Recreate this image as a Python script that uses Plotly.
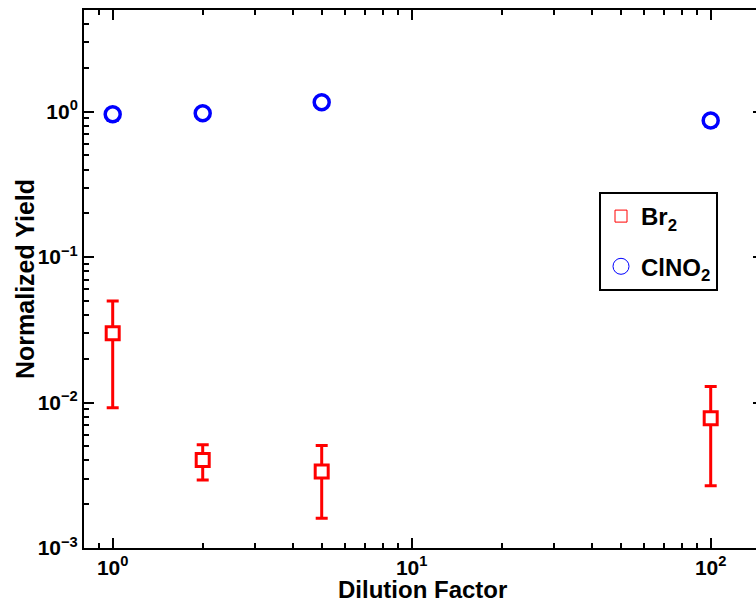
import plotly.graph_objects as go

# ---- data ----
dilution = [1, 2, 5, 100]
br2_yield = [0.030, 0.00402, 0.00336, 0.00781]
br2_err_plus = [0.020, 0.00110, 0.00170, 0.00507]
br2_err_minus = [0.0208, 0.00109, 0.00176, 0.00513]
clno2_yield = [0.96, 0.975, 1.16, 0.87]
clno2_err_plus = [0.08, 0.0, 0.0, 0.07]
clno2_err_minus = [0.09, 0.0, 0.0, 0.08]

x_tickvals = [1, 10, 100]
x_ticktext = ["10<sup>0</sup>", "10<sup>1</sup>", "10<sup>2</sup>"]
y_tickvals = [0.001, 0.01, 0.1, 1]
y_ticktext = ["10<sup>\u22123</sup>", "10<sup>\u22122</sup>", "10<sup>\u22121</sup>", "10<sup>0</sup>"]

x_range_log = [-0.096, 2.1515]
y_range_log = [-3.0, 0.699]

minor_vals = [m * 10 ** e for e in range(-4, 3) for m in range(2, 10)]

FONT = "Liberation Sans, Arial, Helvetica, sans-serif"
RED = "#ff0000"
BLUE = "#0000ff"

fig = go.Figure()

fig.add_trace(go.Scatter(
    x=dilution, y=br2_yield, mode="markers", showlegend=False,
    marker=dict(symbol="square", size=13, color="white", line=dict(width=3, color=RED)),
    error_y=dict(type="data", symmetric=False, array=br2_err_plus, arrayminus=br2_err_minus,
                 color=RED, thickness=3, width=6),
))
fig.add_trace(go.Scatter(
    x=dilution, y=clno2_yield, mode="markers", showlegend=False,
    marker=dict(symbol="circle", size=15, color="white", line=dict(width=3.5, color=BLUE)),
    error_y=dict(type="data", symmetric=False, array=clno2_err_plus, arrayminus=clno2_err_minus,
                 color=BLUE, thickness=3, width=6),
))
# legend entries
fig.add_trace(go.Scatter(
    x=[None], y=[None], mode="markers", name="Br<sub>2</sub>", legendgroup="a",
    marker=dict(symbol="square-open", size=12, color=RED, line=dict(width=1, color=RED)),
))
fig.add_trace(go.Scatter(
    x=[None], y=[None], mode="markers", name="ClNO<sub>2</sub>", legendgroup="b",
    marker=dict(symbol="circle-open", size=16, color=BLUE, line=dict(width=1, color=BLUE)),
))
fig.add_trace(go.Scatter(x=[None], y=[None], yaxis="y2", showlegend=False, hoverinfo="skip"))

axis_common = dict(
    type="log", showgrid=False, zeroline=False, showline=True, linecolor="black", linewidth=2,
    ticks="inside", ticklen=10, tickwidth=2, tickcolor="black",
    tickfont=dict(family=FONT, size=21, color="black", weight="bold"),
    minor=dict(ticks="inside", ticklen=5, tickwidth=1.5, tickcolor="black",
               tickvals=minor_vals, showgrid=False),
)

fig.update_layout(
    width=756, height=603,
    margin=dict(l=84, r=0, t=10, b=55),
    plot_bgcolor="white", paper_bgcolor="white",
    xaxis=dict(axis_common, range=x_range_log, tickvals=x_tickvals, ticktext=x_ticktext,
               mirror="ticks"),
    yaxis=dict(axis_common, range=y_range_log, tickvals=y_tickvals, ticktext=y_ticktext,
               mirror=False),
    yaxis2=dict(type="log", overlaying="y", side="right", range=y_range_log, showgrid=False,
                zeroline=False, showline=False, showticklabels=False, ticks="inside",
                ticklen=3, tickwidth=2, tickcolor="black", tickvals=y_tickvals),
    showlegend=True,
    legend=dict(x=(599 - 84) / 672, y=1 - (192 - 10) / 538, xanchor="left", yanchor="top",
                bordercolor="black", borderwidth=2, bgcolor="white",
                font=dict(family=FONT, size=24, color="black", weight="bold"),
                tracegroupgap=16, itemsizing="trace",
                entrywidth=92, entrywidthmode="pixels"),
    annotations=[
        dict(text="Dilution Factor", xref="paper", yref="paper",
             x=(422 - 84) / 672, y=-(589 - 548) / 538, xanchor="center", yanchor="middle",
             showarrow=False, font=dict(family=FONT, size=24, color="black", weight="bold")),
        dict(text="Normalized Yield", xref="paper", yref="paper", textangle=-90,
             x=-(84 - 25) / 672, y=1 - (279 - 10) / 538, xanchor="center", yanchor="middle",
             showarrow=False, font=dict(family=FONT, size=25, color="black", weight="bold")),
    ],
)

fig.write_html("out.html", post_script="document.body.style.margin='0';",
               config={"displayModeBar": False})
